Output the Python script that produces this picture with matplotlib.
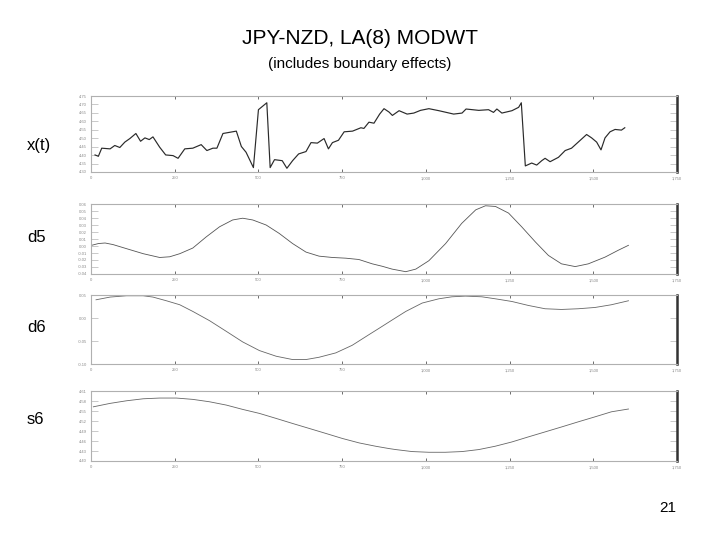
import matplotlib
matplotlib.use("Agg")
import matplotlib.pyplot as plt
import numpy as np

plt.rcParams['font.family'] = ['Liberation Sans', 'DejaVu Sans']

# x(t): log JPY-NZD rate
xt_t = [12, 22, 32, 57, 71, 86, 101, 116, 134, 148, 161, 174, 185, 205, 223, 245, 260, 280,
        304, 329, 346, 364, 376, 394, 434, 449, 463, 485, 500, 525, 535, 548, 571, 585, 602,
        620, 642, 657, 676, 696, 709, 721, 739, 756, 781, 806, 815, 830, 845, 862, 875, 890,
        900, 920, 944, 964, 984, 1009, 1039, 1083, 1108, 1120, 1158, 1187, 1202, 1212, 1227,
        1257, 1277, 1285, 1297, 1316, 1331, 1346, 1356, 1371, 1396, 1416, 1435, 1455, 1480,
        1495, 1510, 1523, 1535, 1550, 1565, 1584, 1594]
xt_v = [4.401, 4.393, 4.441, 4.437, 4.457, 4.445, 4.477, 4.498, 4.528, 4.482, 4.502, 4.492,
        4.508, 4.447, 4.401, 4.397, 4.381, 4.437, 4.441, 4.462, 4.427, 4.441, 4.441, 4.528,
        4.542, 4.451, 4.417, 4.326, 4.669, 4.710, 4.326, 4.373, 4.367, 4.322, 4.367, 4.407,
        4.421, 4.474, 4.471, 4.498, 4.437, 4.474, 4.488, 4.538, 4.542, 4.562, 4.558, 4.595,
        4.589, 4.643, 4.675, 4.655, 4.635, 4.663, 4.643, 4.649, 4.665, 4.675, 4.663, 4.643,
        4.649, 4.673, 4.665, 4.669, 4.653, 4.673, 4.649, 4.663, 4.683, 4.710, 4.336, 4.353,
        4.341, 4.367, 4.381, 4.361, 4.387, 4.427, 4.441, 4.477, 4.522, 4.502, 4.477, 4.431,
        4.502, 4.538, 4.552, 4.548, 4.562]

# d5 detail
d5_t = [2, 22, 42, 66, 106, 156, 205, 235, 265, 304, 344, 384, 423, 453, 483, 523, 562, 602,
        642, 681, 721, 761, 800, 840, 870, 899, 940, 970, 1009, 1059, 1107, 1149, 1178, 1208,
        1247, 1286, 1327, 1366, 1405, 1446, 1485, 1535, 1574, 1605]
d5_v = [0.001, 0.0035, 0.0043, 0.002, -0.0038, -0.011, -0.0164, -0.0154, -0.011, -0.0029,
        0.013, 0.0275, 0.0372, 0.0397, 0.0372, 0.030, 0.018, 0.0035, -0.0087, -0.0145,
        -0.0164, -0.0174, -0.0193, -0.0255, -0.029, -0.033, -0.0367, -0.033, -0.021, 0.0035,
        0.0323, 0.0517, 0.0575, 0.0565, 0.047, 0.0275, 0.0058, -0.0135, -0.0255, -0.0294,
        -0.0255, -0.0159, -0.0062, 0.001]

# d6 detail
d6_t = [15, 57, 106, 156, 185, 225, 265, 304, 354, 404, 453, 503, 553, 602, 642, 681, 731,
        780, 830, 860, 900, 940, 989, 1039, 1078, 1118, 1167, 1207, 1257, 1306, 1356, 1405,
        1455, 1505, 1554, 1605]
d6_v = [0.0396, 0.0455, 0.0483, 0.0483, 0.0455, 0.0375, 0.0288, 0.0143, -0.0058, -0.029,
        -0.052, -0.0708, -0.0831, -0.0903, -0.0903, -0.0853, -0.0758, -0.0593, -0.0362,
        -0.0225, -0.004, 0.0143, 0.0325, 0.0418, 0.0461, 0.0476, 0.0461, 0.0418, 0.0359,
        0.0273, 0.0201, 0.0186, 0.0201, 0.0229, 0.0288, 0.0375]

# s6 smooth
s6_t = [7, 57, 106, 156, 205, 255, 304, 354, 404, 453, 503, 553, 602, 652, 702, 751, 801,
        850, 890, 910, 959, 1009, 1058, 1108, 1158, 1207, 1257, 1306, 1356, 1406, 1455, 1505,
        1554, 1605]
s6_v = [4.5626, 4.5729, 4.5807, 4.5867, 4.5889, 4.5889, 4.5849, 4.5777, 4.5678, 4.5548,
        4.5428, 4.5277, 4.5126, 4.4976, 4.4825, 4.4675, 4.4542, 4.4443, 4.4373, 4.4343,
        4.4283, 4.4262, 4.4262, 4.4283, 4.4343, 4.4443, 4.4572, 4.4723, 4.4873, 4.5024,
        4.5175, 4.5325, 4.5476, 4.5560]

x_ticks = [0, 250, 500, 750, 1000, 1250, 1500, 1750]
xt_ticks = [4.30, 4.35, 4.40, 4.45, 4.50, 4.55, 4.60, 4.65, 4.70, 4.75]
d5_ticks = [-0.04, -0.03, -0.02, -0.01, 0.0, 0.01, 0.02, 0.03, 0.04, 0.05, 0.06]
d6_ticks = [-0.10, -0.05, 0.0, 0.05]
s6_ticks = [4.40, 4.43, 4.46, 4.49, 4.52, 4.55, 4.58, 4.61]

panels = [
    ("x(t)", xt_t, xt_v, xt_ticks, "%.2f", [0.1264, 0.6815, 0.8139, 0.1407], 145, '#2a2a2a', 0.85),
    ("d5", d5_t, d5_v, d5_ticks, "%.2f", [0.1264, 0.4926, 0.8139, 0.1296], 237, '#555555', 0.6),
    ("d6", d6_t, d6_v, d6_ticks, "%.2f", [0.1264, 0.3259, 0.8139, 0.1278], 327, '#666666', 0.6),
    ("s6", s6_t, s6_v, s6_ticks, "%.2f", [0.1264, 0.1463, 0.8139, 0.1296], 420, '#666666', 0.6),
]

fig = plt.figure(figsize=(7.2, 5.4), dpi=100)

for name, t, v, yt, fmt, rect, label_y, col, lw in panels:
    ax = fig.add_axes(rect)
    ax.plot(t, v, color=col, lw=lw)
    ax.set_xlim(0, 1750)
    ax.set_ylim(yt[0], yt[-1])
    ax.set_xticks(x_ticks)
    ax.set_xticklabels(["{:,}".format(x) for x in x_ticks])
    ax.set_yticks(yt)
    ax.set_yticklabels([fmt % y for y in yt])
    for s in ['top', 'bottom', 'left']:
        ax.spines[s].set_color('#b0b0b0')
        ax.spines[s].set_linewidth(0.8)
    ax.spines['right'].set_color('#333333')
    ax.spines['right'].set_linewidth(1.8)
    ax.tick_params(axis='both', direction='in', length=5, width=0.6, color='#c0c0c0',
                   labelsize=3, labelcolor='#888888', pad=3)
    ax.tick_params(axis='y', right=True)
    ax.tick_params(axis='x', top=True, length=2, color='#555555')
    fig.text(27 / 720, 1 - label_y / 540, name, fontsize=12, ha='left', va='center')

fig.text(0.5, 1 - 38 / 540, "JPY-NZD, LA(8) MODWT", fontsize=15, ha='center', va='center')
fig.text(0.5, 1 - 64 / 540, "(includes boundary effects)", fontsize=11, ha='center', va='center')
fig.text(668 / 720, 1 - 508 / 540, "21", fontsize=11, ha='center', va='center')

fig.savefig("out.png", dpi=100)
